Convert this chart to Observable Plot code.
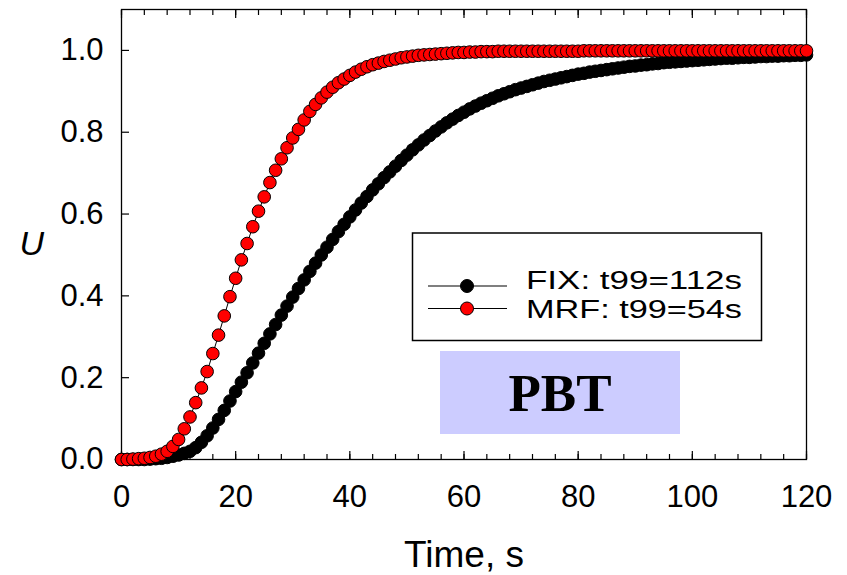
<!DOCTYPE html>
<html>
<head>
<meta charset="utf-8">
<script src="https://cdn.jsdelivr.net/npm/d3@7"></script>
<script src="https://cdn.jsdelivr.net/npm/@observablehq/plot@0.6"></script>
<style>
  html, body { margin: 0; padding: 0; background: #fff; }
  #wrap { position: relative; width: 847px; height: 575px; font-family: "Liberation Sans", Arial, sans-serif; }
</style>
</head>
<body>
<div id="wrap"></div>
<script>
// time axis (s)
const time = d3.range(0, 121);
// FIX series U(t), t = 0..120 s
const fixU = [0,0,0,0,0,0.001,0.002,0.003,0.005,0.008,
  0.011,0.015,0.020,0.029,0.042,0.058,0.077,0.098,0.120,0.143,
  0.166,0.189,0.212,0.236,0.260,0.284,0.307,0.330,0.353,0.375,
  0.397,0.418,0.439,0.460,0.480,0.500,0.519,0.538,0.557,0.575,
  0.593,0.610,0.627,0.643,0.659,0.674,0.689,0.703,0.717,0.731,
  0.744,0.757,0.769,0.781,0.792,0.803,0.813,0.823,0.832,0.841,
  0.849,0.857,0.864,0.871,0.877,0.883,0.889,0.894,0.899,0.904,
  0.908,0.912,0.916,0.920,0.924,0.927,0.930,0.933,0.936,0.939,
  0.942,0.944,0.947,0.949,0.951,0.953,0.955,0.957,0.959,0.961,
  0.962,0.964,0.965,0.967,0.968,0.970,0.971,0.972,0.973,0.974,
  0.975,0.976,0.977,0.978,0.979,0.980,0.981,0.981,0.982,0.983,
  0.983,0.984,0.985,0.985,0.986,0.986,0.987,0.987,0.988,0.988,0.989];
// MRF series U(t), t = 0..120 s
const mrfU = [0,0,0.001,0.002,0.003,0.005,0.008,0.013,0.020,0.032,
  0.049,0.075,0.104,0.139,0.175,0.215,0.259,0.304,0.351,0.398,
  0.443,0.488,0.528,0.569,0.607,0.642,0.677,0.707,0.735,0.762,
  0.786,0.807,0.830,0.851,0.868,0.884,0.898,0.910,0.921,0.930,
  0.939,0.947,0.954,0.960,0.965,0.969,0.973,0.976,0.979,0.982,
  0.984,0.986,0.988,0.989,0.990,0.991,0.992,0.993,0.994,0.995,
  0.995,0.996,0.996,0.997,0.997,0.997,0.998,0.998,0.998,0.998,
  0.998,0.998,0.998,0.998,0.998,0.998,0.998,0.998,0.998,0.998,
  0.998,0.999,0.999,0.999,0.999,0.999,0.999,0.999,0.999,0.999,
  0.999,0.999,0.999,0.999,0.999,0.999,0.999,0.999,0.999,0.999,
  0.999,0.999,0.999,0.999,0.999,0.999,0.999,0.999,0.999,0.999,
  0.999,0.999,0.999,0.999,0.999,0.999,0.999,0.999,0.999,0.999,0.999];

const xMajor = [0, 20, 40, 60, 80, 100, 120];
const xMinor = d3.range(0, 121, 4);
const yMajor = [0, 0.2, 0.4, 0.6, 0.8, 1.0];
const seriesNames = ["FIX: t99=112s", "MRF: t99=54s"];
const seriesFill = ["#000000", "#ff0000"];
const xTitle = "Time, s";
const yTitle = "U";
const tagText = "PBT";

const fix = time.map((t, i) => ({t, u: fixU[i]}));
const mrf = time.map((t, i) => ({t, u: mrfU[i]}));

const font = "Liberation Sans, Arial, sans-serif";

const chart = Plot.plot({
  width: 847,
  height: 575,
  marginLeft: 121,
  marginRight: 41,
  marginTop: 9,
  marginBottom: 116,
  style: {fontFamily: font, background: "#fff", color: "#000"},
  x: {domain: [0, 120]},
  y: {domain: [0, 1.1]},
  marks: [
    // minor ticks (inward)
    Plot.axisX({anchor: "bottom", ticks: xMinor, tickSize: -5, tickFormat: () => "", label: null, strokeWidth: 1.2}),
    Plot.axisX({anchor: "top", ticks: xMinor, tickSize: -5, tickFormat: () => "", label: null, strokeWidth: 1.2}),
    // major ticks (inward)
    Plot.axisX({anchor: "bottom", ticks: xMajor, tickSize: -8, tickFormat: () => "", label: null, strokeWidth: 1.2}),
    Plot.axisX({anchor: "top", ticks: xMajor, tickSize: -8, tickFormat: () => "", label: null, strokeWidth: 1.2}),
    Plot.axisY({anchor: "left", ticks: yMajor, tickSize: -8, tickFormat: () => "", label: null, strokeWidth: 1.2}),
    // tick labels
    Plot.axisX({anchor: "bottom", ticks: xMajor, tickSize: 0, tickPadding: 25, tickFormat: d3.format("d"), fontSize: 31, label: null}),
    Plot.axisY({anchor: "left", ticks: yMajor, tickSize: 0, tickPadding: 18, tickFormat: d3.format(".1f"), fontSize: 31, label: null}),
    Plot.frame({stroke: "#000", strokeWidth: 1.3}),
    // FIX
    Plot.line(fix, {x: "t", y: "u", stroke: "#000", strokeWidth: 1}),
    Plot.dot(fix, {x: "t", y: "u", r: 6.3, fill: seriesFill[0], stroke: "#000", strokeWidth: 1}),
    // MRF
    Plot.line(mrf, {x: "t", y: "u", stroke: "#000", strokeWidth: 1}),
    Plot.dot(mrf, {x: "t", y: "u", r: 6.3, fill: seriesFill[1], stroke: "#000", strokeWidth: 1}),
    // axis titles
    Plot.text([xTitle], {frameAnchor: "bottom", dy: 96, fontSize: 37, lineAnchor: "middle", fill: "#000"}),
    Plot.text([yTitle], {frameAnchor: "left", dx: -102, dy: 10, fontSize: 34, fontStyle: "italic", lineAnchor: "middle", fill: "#000"})
  ]
});

const wrap = document.getElementById("wrap");
wrap.appendChild(chart);

// overlay: tag box and legend
const svg = d3.select(chart);
const ann = svg.append("g").attr("class", "annotations");

ann.append("rect")
  .attr("x", 440).attr("y", 351).attr("width", 240).attr("height", 83)
  .attr("fill", "#ccccff");
ann.append("text")
  .attr("x", 560).attr("y", 411)
  .attr("text-anchor", "middle")
  .attr("font-family", "Liberation Serif, Times New Roman, serif")
  .attr("font-weight", "bold")
  .attr("font-size", 53)
  .attr("fill", "#000")
  .text(tagText);

const leg = ann.append("g").attr("class", "legend");
leg.append("rect")
  .attr("x", 412.5).attr("y", 233).attr("width", 349).attr("height", 107.5)
  .attr("fill", "#fff").attr("stroke", "#000").attr("stroke-width", 1.5);
const rowLineY = [286, 308.5];
const rowTextY = [288.5, 318];
seriesNames.forEach((name, i) => {
  leg.append("line")
    .attr("x1", 428).attr("x2", 507).attr("y1", rowLineY[i]).attr("y2", rowLineY[i])
    .attr("stroke", "#000").attr("stroke-width", 1.2);
  leg.append("circle")
    .attr("cx", 467).attr("cy", rowLineY[i]).attr("r", 6.5)
    .attr("fill", seriesFill[i]).attr("stroke", "#000").attr("stroke-width", 1);
  leg.append("text")
    .attr("x", 526).attr("y", rowTextY[i])
    .attr("text-anchor", "start")
    .attr("font-size", 26)
    .attr("textLength", 216).attr("lengthAdjust", "spacingAndGlyphs")
    .attr("fill", "#000")
    .text(name);
});
</script>
</body>
</html>
